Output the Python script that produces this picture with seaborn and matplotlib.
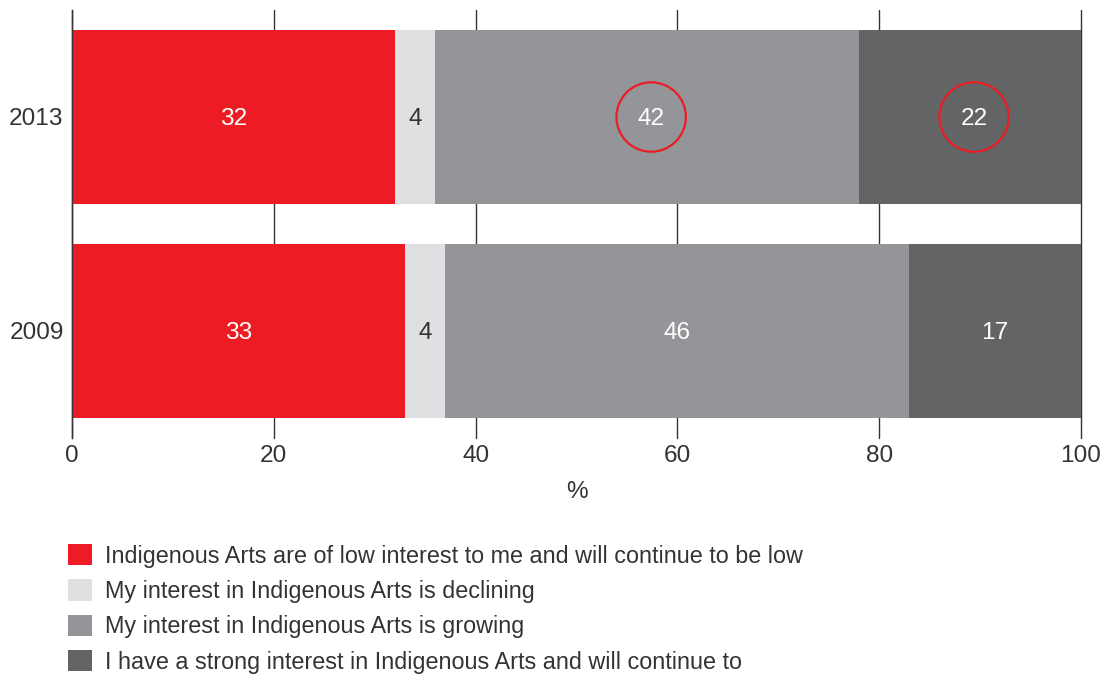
import matplotlib
matplotlib.use("Agg")
import matplotlib.pyplot as plt
import seaborn as sns
import pandas as pd
import numpy as np

# Survey responses by year (% of respondents)
years = ["2013", "2009"]
low_interest = [32, 33]
declining = [4, 4]
growing = [42, 46]
strong = [22, 17]

categories = [
    "Indigenous Arts are of low interest to me and will continue to be low",
    "My interest in Indigenous Arts is declining",
    "My interest in Indigenous Arts is growing",
    "I have a strong interest in Indigenous Arts and will continue to",
]
colors = ["#ED1C24", "#DFE0E2", "#939598", "#636466"]
label_colors = ["white", "#333333", "white", "white"]
highlighted = {("2013", 2), ("2013", 3)}

sns.set_theme(style="white")
plt.rcParams["font.family"] = ["Liberation Sans", "DejaVu Sans"]
text_color = "#333333"
fs = 17.6

series = [low_interest, declining, growing, strong]
df = pd.DataFrame({"year": years})
for cat, vals in zip(categories, series):
    df[cat] = vals

fig = plt.figure(figsize=(11.12, 6.75), dpi=100)
ax = fig.add_axes([72 / 1112, 1 - 438 / 675, (1081 - 72) / 1112, 428 / 675])

# Stacked horizontal bars: draw cumulative totals from the widest down
cum = df[categories].cumsum(axis=1)
for i in range(len(categories) - 1, -1, -1):
    sns.barplot(data=cum, x=cum.columns[i], y=df["year"], order=years,
                orient="h", color=colors[i], saturation=1, width=0.81,
                ax=ax, label=categories[i], linewidth=0)

# Segment value labels
for j, yr in enumerate(years):
    left = 0
    for i, cat in enumerate(categories):
        v = df.loc[j, cat]
        cx = left + v / 2
        if (yr, i) in highlighted:
            cx += 0.4
            ax.scatter([cx], [j], s=2500, facecolors="none",
                       edgecolors="#ED1C24", linewidths=1.6, zorder=6)
        ax.text(cx, j, f"{v}", ha="center", va="center_baseline", fontsize=fs,
                color=label_colors[i], zorder=5)
        left += v

ax.set_xlim(0, 100)
ax.set_ylim(1.5, -0.5)
ax.set_xticks([0, 20, 40, 60, 80, 100])
ax.grid(axis="x", color=text_color, linewidth=1.0)
ax.grid(axis="y", visible=False)
for gl in ax.get_xgridlines():
    gl.set_clip_on(False)
ax.set_axisbelow(True)
for side in ["top", "right", "bottom"]:
    ax.spines[side].set_visible(False)
ax.spines["left"].set_color(text_color)
ax.spines["left"].set_linewidth(1.0)
ax.tick_params(axis="both", length=0, labelsize=fs, labelcolor=text_color)
ax.tick_params(axis="x", pad=5)
ax.tick_params(axis="y", pad=6)
for lbl in ax.get_yticklabels():
    lbl.set_verticalalignment("center_baseline")
ax.set_ylabel("")
ax.set_xlabel("%", fontsize=fs, color=text_color, labelpad=10)
if ax.get_legend() is not None:
    ax.get_legend().remove()

# Legend below the plot
handles = [plt.Rectangle((0, 0), 1, 1, facecolor=c, edgecolor="none") for c in colors]
fig.legend(handles, categories, loc="upper left",
           bbox_to_anchor=(68 / 1112, 1 - 544 / 675), frameon=False,
           fontsize=16.8, labelcolor=text_color, handlelength=1.03,
           handleheight=1.03, handletextpad=0.55, labelspacing=0.5,
           borderpad=0, borderaxespad=0)

fig.savefig("out.png", dpi=100)
